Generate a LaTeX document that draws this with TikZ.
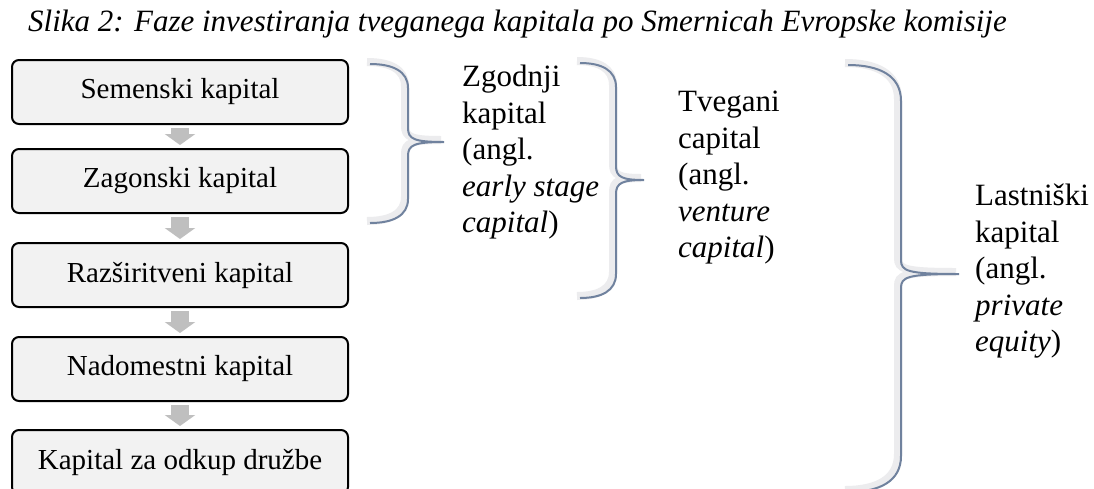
\documentclass[tikz,border=0pt]{standalone}
\usepackage{fontspec}
\setmainfont{Liberation Serif}
\usetikzlibrary{arrows.meta}
\definecolor{boxfill}{RGB}{242,242,242}
\definecolor{arrowgray}{RGB}{191,191,191}
\definecolor{bracelight}{RGB}{236,236,238}
\definecolor{bracedark}{RGB}{112,130,158}
% #1 x0, #2 xv, #3 xt, #4 ytop, #5 ymid, #6 ybot, #7 r
\newcommand\bracepathspec[7]{(#1,#4) .. controls ({#1+0.6*(#2-#1)},{#4}) and ({#2},{#4+0.3*#7}) .. ({#2},{#4+#7}) -- ({#2},{#5-14}) .. controls ({#2},{#5-3}) and ({#2+6},{#5}) .. (#3,#5) .. controls ({#2+6},{#5}) and ({#2},{#5+3}) .. ({#2},{#5+14}) -- ({#2},{#6-#7}) .. controls ({#2},{#6-0.3*#7}) and ({#1+0.6*(#2-#1)},{#6}) .. (#1,#6)}
\newcommand\mybrace[7]{%
  \draw[bracelightst] \bracepathspec{#1}{#2}{#3}{#4}{#5}{#6}{#7};
  \draw[bracedarkst] \bracepathspec{#1}{#2}{#3}{#4}{#5}{#6}{#7};
}
\tikzset{
  stagebox/.style={draw=black, line width=2pt, rounded corners=7pt, fill=boxfill,
    minimum width=336pt, minimum height=64pt, inner sep=0pt,
    font=\fontsize{29}{34}\selectfont},
  flowarrow/.style={draw=arrowgray, line width=18pt, -{Triangle[width=30pt,length=11pt,fill=arrowgray]}},
  bracetext/.style={anchor=north west, inner sep=0pt, align=left,
    font=\fontsize{31}{36.5}\selectfont},
  bracelightst/.style={draw=bracelight, line width=8pt, line cap=butt},
  bracedarkst/.style={draw=bracedark, line width=2pt, xshift=3pt, yshift=-2pt},
}
\begin{document}
\begin{tikzpicture}[x=1pt, y=-1pt]
\useasboundingbox (0,0) rectangle (1094,488);
\clip (0,0) rectangle (1094,488);
\fill[white] (0,0) rectangle (1094,488);

\node[anchor=base west, inner sep=0pt, font=\fontsize{31}{36}\selectfont\itshape] (title) at (28,31)
  {Slika 2: Faze investiranja tveganega kapitala po Smernicah Evropske komisije};

\node[stagebox] (b1) at (180,92) {Semenski kapital};
\node[stagebox] (b2) at (180,181) {Zagonski kapital};
\node[stagebox] (b3) at (180,275) {Razširitveni kapital};
\node[stagebox] (b4) at (180,369) {Nadomestni kapital};
\node[stagebox] (b5) at (180,462) {Kapital za odkup družbe};

\draw[flowarrow] ([yshift=-3pt]b1.south) -- ([yshift=3pt]b2.north);
\draw[flowarrow] ([yshift=-3pt]b2.south) -- ([yshift=3pt]b3.north);
\draw[flowarrow] ([yshift=-3pt]b3.south) -- ([yshift=3pt]b4.north);
\draw[flowarrow] ([yshift=-3pt]b4.south) -- ([yshift=3pt]b5.north);

\mybrace{367}{405}{441}{62}{140}{221}{24}
\mybrace{577}{613}{641}{61}{178}{296}{24}
\mybrace{845}{898}{956}{63}{272}{490}{36}

\node[bracetext] (zg) at (462,65) {Zgodnji\\kapital\\(angl.\\\textit{early stage}\\\textit{capital})};
\node[bracetext] (tv) at (678,91) {Tvegani\\capital\\(angl.\\\textit{venture}\\\textit{capital})};
\node[bracetext] (la) at (975,184) {Lastniški\\kapital\\(angl.\\\textit{private}\\\textit{equity})};
\end{tikzpicture}
\end{document}
